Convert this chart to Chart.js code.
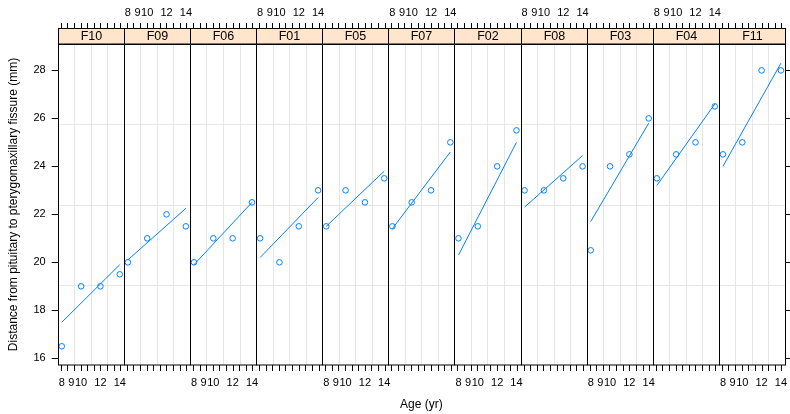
<!DOCTYPE html>
<html>
<head>
<meta charset="utf-8">
<script src="https://cdn.jsdelivr.net/npm/chart.js@4"></script>
<style>
  html, body { margin: 0; padding: 0; background: #fff; }
  canvas { display: block; }
</style>
</head>
<body>
<canvas id="chart" width="790" height="414"></canvas>
<script>
// Orthodontic growth, girls: one panel per subject, ordered by mean distance
const subjects = ['F10', 'F09', 'F06', 'F01', 'F05', 'F07', 'F02', 'F08', 'F03', 'F04', 'F11'];
const ages = [8, 10, 12, 14];
const distance = [
  [16.5, 19, 19, 19.5],
  [20, 21, 22, 21.5],
  [20, 21, 21, 22.5],
  [21, 20, 21.5, 23],
  [21.5, 23, 22.5, 23.5],
  [21.5, 22.5, 23, 25],
  [21, 21.5, 24, 25.5],
  [23, 23, 23.5, 24],
  [20.5, 24, 24.5, 26],
  [23.5, 24.5, 25, 26.5],
  [24.5, 25, 28, 28]
];
// fitted subject lines (mixed model predictions) at ages 8 and 14
const fitAges = [8, 14];
const fit8 = [17.5, 20.1, 19.9, 20.2, 21.5, 21.4, 20.3, 22.3, 21.7, 23.2, 24.0];
const fit14 = [19.9, 22.25, 22.5, 22.7, 23.8, 24.6, 25.0, 24.45, 25.8, 26.6, 28.3];

const ageTicks = [8, 9, 10, 12, 14];
const distTicks = [16, 18, 20, 22, 24, 26, 28];

const ageLo = 7.58, ageHi = 14.42;   // age range inside one panel
const yLo = 15.72, yHi = 29.1;
const blue = '#0080ff';
const family = '"Liberation Sans", Arial, sans-serif';

// panel i occupies [i, i + 1] on the shared x scale
const px = (i, age) => i + (age - ageLo) / (ageHi - ageLo);

const datasets = [];
subjects.forEach((s, i) => {
  datasets.push({
    label: s,
    data: ages.map((a, k) => ({ x: px(i, a), y: distance[i][k] })),
    borderColor: blue,
    backgroundColor: 'rgba(0,0,0,0)',
    pointRadius: 2.8,
    pointBorderWidth: 1,
    showLine: false
  });
  datasets.push({
    label: s + ' fit',
    data: [{ x: px(i, fitAges[0]), y: fit8[i] }, { x: px(i, fitAges[1]), y: fit14[i] }],
    borderColor: blue,
    borderWidth: 1,
    pointRadius: 0,
    showLine: true,
    fill: false
  });
});

const lattice = {
  id: 'lattice',
  beforeDatasetsDraw(chart) {
    const { ctx, chartArea: a, scales: { x, y } } = chart;
    ctx.save();
    ctx.strokeStyle = '#e6e6e6';
    ctx.lineWidth = 1;
    ctx.beginPath();
    for (let i = 0; i < subjects.length; i++) {
      for (let k = 1; k < 4; k++) {
        const xx = Math.round(x.getPixelForValue(i + k / 4)) + 0.5;
        ctx.moveTo(xx, a.top);
        ctx.lineTo(xx, a.bottom);
      }
    }
    for (let k = 1; k < 4; k++) {
      const yy = Math.round(y.getPixelForValue(yLo + k * (yHi - yLo) / 4)) + 0.5;
      ctx.moveTo(a.left, yy);
      ctx.lineTo(a.right, yy);
    }
    ctx.stroke();
    ctx.restore();
  },
  afterDatasetsDraw(chart) {
    const { ctx, chartArea: a, scales: { x } } = chart;
    const stripTop = a.top - 16;
    ctx.save();
    ctx.lineWidth = 1;
    ctx.strokeStyle = '#000';
    for (let i = 0; i < subjects.length; i++) {
      const l = Math.round(x.getPixelForValue(i)) + 0.5;
      const r = Math.round(x.getPixelForValue(i + 1)) + 0.5;
      // strip with subject id
      ctx.fillStyle = '#ffe5cc';
      ctx.fillRect(l, stripTop, r - l, a.top - stripTop);
      ctx.strokeRect(l, stripTop + 0.5, r - l, a.top - stripTop);
      ctx.fillStyle = '#000';
      ctx.font = '12.5px ' + family;
      ctx.textAlign = 'center';
      ctx.textBaseline = 'middle';
      ctx.fillText(subjects[i], (l + r) / 2, stripTop + 8.5);
      // panel frame
      ctx.strokeRect(l, a.top, r - l, a.bottom - a.top);
      // tick marks on top and bottom
      ctx.beginPath();
      for (let k = 0; k < 10; k++) {
        const tx = Math.round(x.getPixelForValue(i + (k + 0.45) / 10)) + 0.5;
        ctx.moveTo(tx, stripTop - 5);
        ctx.lineTo(tx, stripTop);
        ctx.moveTo(tx, a.bottom);
        ctx.lineTo(tx, a.bottom + 6);
      }
      ctx.stroke();
      // age labels alternate between bottom and top
      ctx.font = '11px ' + family;
      const ly = i % 2 === 0 ? a.bottom + 18 : 13;
      ageTicks.forEach(t => ctx.fillText(String(t), x.getPixelForValue(px(i, t)), ly));
    }
    ctx.restore();
  }
};

new Chart(document.getElementById('chart'), {
  type: 'scatter',
  data: { datasets },
  options: {
    responsive: false,
    animation: false,
    layout: { padding: { top: 44 } },
    plugins: { legend: { display: false }, tooltip: { enabled: false } },
    scales: {
      x: {
        type: 'linear',
        min: 0,
        max: subjects.length,
        afterFit: s => { s.height = 49; },
        grid: { display: false },
        border: { display: false },
        ticks: { display: false },
        title: {
          display: true, text: 'Age (yr)', color: '#000',
          font: { family, size: 12 }, padding: { top: 0, bottom: 2 }
        }
      },
      y: {
        min: yLo,
        max: yHi,
        afterBuildTicks: s => { s.ticks = distTicks.map(v => ({ value: v })); },
        afterFit: s => { s.width = 57.7; },
        grid: { drawOnChartArea: false, tickLength: 6, color: '#000' },
        border: { display: false },
        ticks: { color: '#000', font: { family, size: 11 }, padding: 6 },
        title: {
          display: true, text: 'Distance from pituitary to pterygomaxillary fissure (mm)',
          color: '#000', font: { family, size: 12 }, padding: { top: 6, bottom: 0 }
        }
      },
      yr: {
        position: 'right',
        min: yLo,
        max: yHi,
        afterBuildTicks: s => { s.ticks = distTicks.map(v => ({ value: v })); },
        afterFit: s => { s.width = 3.8; },
        grid: { drawOnChartArea: false, tickLength: 5, color: '#000' },
        border: { display: false },
        ticks: { display: false }
      }
    }
  },
  plugins: [lattice]
});
</script>
</body>
</html>
